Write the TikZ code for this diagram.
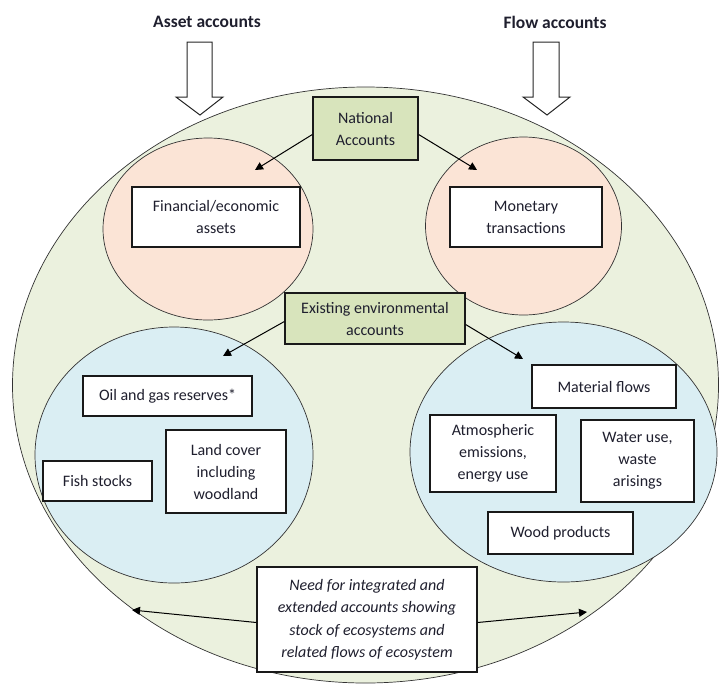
\documentclass[tikz,border=0pt]{standalone}
\usepackage{fontspec}
\setmainfont{Carlito}
\usetikzlibrary{arrows.meta}
\definecolor{bggreen}{HTML}{EBF1DE}
\definecolor{boxgreen}{HTML}{D8E4BC}
\definecolor{pinkfill}{HTML}{FBE4D6}
\definecolor{bluefill}{HTML}{DAEEF3}
\definecolor{inktext}{HTML}{1F1F2E}
\tikzset{
  bubble/.style={draw=black!80, line width=0.7pt},
  wbox/.style={draw=black!90, line width=1.3pt, fill=white, align=center, inner sep=0pt,
    text=inktext, font=\fontsize{16}{22}\selectfont},
  gbox/.style={wbox, fill=boxgreen},
  arr/.style={line width=1pt, -{Triangle[length=8pt,width=8pt]}},
  blockarrow/.style={draw=black!85, line width=1pt, fill=white, line join=miter},
  title/.style={text=inktext, font=\fontsize{17.5}{20}\selectfont\bfseries}
}
\begin{document}
\begin{tikzpicture}[x=1pt,y=-1pt]
\useasboundingbox (0,0) rectangle (719,686);
% background ellipse
\fill[bggreen] (365.5,385) ellipse [x radius=353, y radius=298];
\draw[bubble] (365.5,385) ellipse [x radius=353, y radius=298];
% pink circles
\filldraw[bubble, fill=pinkfill] (208,229) ellipse [x radius=105, y radius=91];
\filldraw[bubble, fill=pinkfill] (523.5,226) ellipse [x radius=98, y radius=89];
% blue circles
\filldraw[bubble, fill=bluefill] (174,455) ellipse [x radius=139, y radius=128];
\filldraw[bubble, fill=bluefill] (563.5,452) ellipse [x radius=153.5, y radius=130];
% block arrows
\draw[blockarrow] (187,42)--(212,42)--(212,97)--(223,97)--(200,115)--(176,97)--(187,97)--cycle;
\draw[blockarrow] (533,42)--(559,42)--(559,97)--(570,97)--(547,115)--(523,97)--(533,97)--cycle;
% titles
\node[title] (asset) at (207,22) {Asset accounts};
\node[title] (flow) at (555,22) {Flow accounts};
% boxes
\node[gbox, minimum width=105pt, minimum height=63pt] (nat) at (365.5,128.5) {National\\Accounts};
\node[wbox, minimum width=168pt, minimum height=60pt] (fin) at (216,217) {Financial/economic\\assets};
\node[wbox, minimum width=152pt, minimum height=60pt] (mon) at (526,217) {Monetary\\transactions};
\node[gbox, minimum width=180pt, minimum height=51pt] (env) at (375,318.5) {Existing environmental\\accounts};
\node[wbox, minimum width=169pt, minimum height=40pt] (oil) at (167.5,396) {Oil and gas reserves*};
\node[wbox, minimum width=109pt, minimum height=40pt] (fish) at (97.5,481) {Fish stocks};
\node[wbox, minimum width=120pt, minimum height=83pt] (land) at (226,471.5) {Land cover\\including\\woodland};
\node[wbox, minimum width=144pt, minimum height=43pt] (mat) at (604,386.5) {Material flows};
\node[wbox, minimum width=126pt, minimum height=77pt] (atm) at (493,453.5) {Atmospheric\\emissions,\\energy use};
\node[wbox, minimum width=113pt, minimum height=82pt] (water) at (637.5,461) {Water use,\\waste\\arisings};
\node[wbox, minimum width=145pt, minimum height=42pt] (wood) at (560.5,533) {Wood products};
\node[wbox, minimum width=220pt, minimum height=105pt, font=\fontsize{16}{22.5}\selectfont\itshape] (need) at (367,619.5)
  {Need for integrated and\\extended accounts showing\\stock of ecosystems and\\related flows of ecosystem};
% arrow tip coordinates
\coordinate (natL) at (255,170);
\coordinate (natR) at (477,170);
\coordinate (envL) at (223,356);
\coordinate (envR) at (523,359);
\coordinate (needL) at (132,610);
\coordinate (needR) at (587,612);
% connectors
\draw[arr] ([yshift=-6pt]nat.west) -- (natL);
\draw[arr] ([yshift=-6pt]nat.east) -- (natR);
\draw[arr] ([yshift=-3pt]env.west) -- (envL);
\draw[arr] ([yshift=-6pt]env.east) -- (envR);
\draw[arr] ([yshift=-3pt]need.west) -- (needL);
\draw[arr] ([yshift=-3pt]need.east) -- (needR);
\end{tikzpicture}
\end{document}
